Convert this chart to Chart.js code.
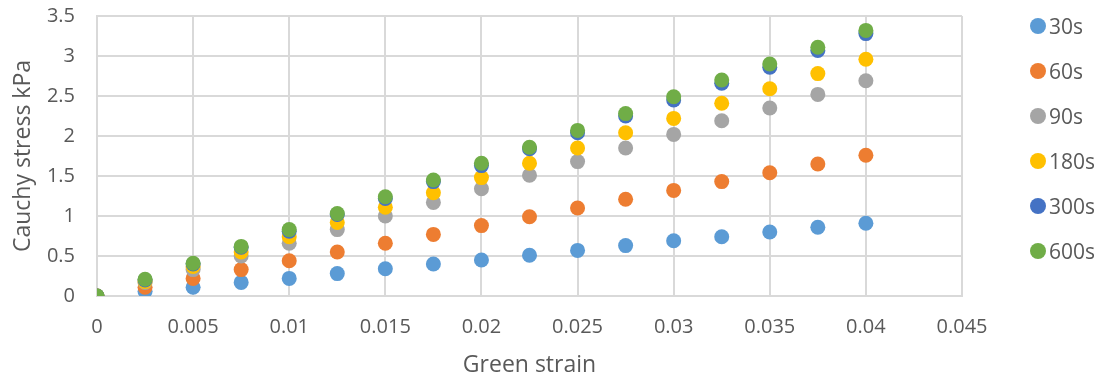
<!DOCTYPE html>
<html lang="en">
<head>
  <meta charset="UTF-8">
  <title>Cauchy stress vs Green strain</title>
  <script src="https://cdn.jsdelivr.net/npm/chart.js"></script>
  <style>
    body {
      margin: 0;
      background: #fff;
      font-family: 'Open Sans', sans-serif;
    }
    .wrap {
      position: relative;
      width: 1104px;
      height: 379px;
    }
    #legend {
      position: absolute;
      left: 1030px;
      top: 12px;
      margin: 0;
      padding: 0;
      list-style: none;
      color: #595959;
      font-size: 21px;
    }
    #legend li {
      height: 45px;
      line-height: 28px;
      display: flex;
      align-items: flex-start;
    }
    #legend span {
      display: inline-block;
      width: 16px;
      height: 16px;
      border-radius: 50%;
      margin: 6px 3px 0 0;
    }
  </style>
</head>
<body>
  <div class="wrap">
    <canvas id="chart" width="1104" height="379"></canvas>
    <ul id="legend"></ul>
  </div>
  <script>
    // strain values (x)
    const strain = [0, 0.0025, 0.005, 0.0075, 0.01, 0.0125, 0.015, 0.0175, 0.02,
                    0.0225, 0.025, 0.0275, 0.03, 0.0325, 0.035, 0.0375, 0.04];

    const seriesNames = ['30s', '60s', '90s', '180s', '300s', '600s'];
    const seriesColors = ['#5B9BD5', '#ED7D31', '#A5A5A5', '#FFC000', '#4472C4', '#70AD47'];

    // stress in kPa
    const s30  = [0, 0.06, 0.11, 0.17, 0.22, 0.28, 0.34, 0.40, 0.45, 0.51, 0.57, 0.63, 0.69, 0.74, 0.80, 0.86, 0.91];
    const s60  = [0, 0.11, 0.22, 0.33, 0.44, 0.55, 0.66, 0.77, 0.88, 0.99, 1.10, 1.21, 1.32, 1.43, 1.54, 1.65, 1.76];
    const s90  = [0, 0.17, 0.33, 0.50, 0.66, 0.83, 1.00, 1.17, 1.34, 1.51, 1.68, 1.85, 2.02, 2.19, 2.35, 2.52, 2.69];
    const s180 = [0, 0.18, 0.37, 0.55, 0.74, 0.92, 1.11, 1.29, 1.48, 1.66, 1.85, 2.04, 2.22, 2.41, 2.59, 2.78, 2.96];
    const s300 = [0, 0.20, 0.40, 0.61, 0.81, 1.02, 1.22, 1.43, 1.63, 1.84, 2.04, 2.25, 2.45, 2.66, 2.86, 3.07, 3.28];
    const s600 = [0, 0.21, 0.41, 0.62, 0.83, 1.03, 1.24, 1.45, 1.66, 1.86, 2.07, 2.28, 2.49, 2.70, 2.90, 3.11, 3.32];
    const allSeries = [s30, s60, s90, s180, s300, s600];

    const xTicks = [0, 0.005, 0.01, 0.015, 0.02, 0.025, 0.03, 0.035, 0.04, 0.045];
    const yTicks = [0, 0.5, 1, 1.5, 2, 2.5, 3, 3.5];

    const textColor = '#595959';
    const gridColor = '#d9d9d9';
    const font = { family: "'Open Sans', sans-serif", size: 20 };
    const titleFont = { family: "'Open Sans', sans-serif", size: 23 };

    const datasets = allSeries.map((vals, i) => ({
      label: seriesNames[i],
      data: vals.map((v, j) => ({ x: strain[j], y: v })),
      backgroundColor: seriesColors[i],
      borderColor: seriesColors[i],
      pointRadius: 7.5,
      pointBorderWidth: 0,
      showLine: false,
      order: allSeries.length - i   // later series on top, like Excel
    }));

    new Chart(document.getElementById('chart'), {
      type: 'scatter',
      data: { datasets },
      options: {
        responsive: false,
        animation: false,
        layout: { padding: { top: 0, right: 142, left: 0, bottom: 0 } },
        plugins: {
          legend: { display: false },
          tooltip: { enabled: false }
        },
        scales: {
          x: {
            type: 'linear',
            min: 0,
            max: 0.045,
            afterBuildTicks: s => { s.ticks = xTicks.map(v => ({ value: v })); },
            afterFit: s => { s.height = 379 - 296; },
            grid: { color: gridColor, lineWidth: 2, drawTicks: false },
            border: { color: gridColor, width: 2 },
            ticks: {
              color: textColor, font, padding: 19,
              callback: v => String(+v.toFixed(4))
            },
            title: {
              display: true, text: 'Green strain', color: textColor,
              font: titleFont, padding: { top: 0, bottom: 0 }
            }
          },
          y: {
            min: 0,
            max: 3.5,
            afterBuildTicks: s => { s.ticks = yTicks.map(v => ({ value: v })); },
            afterFit: s => { s.width = 97; s.paddingTop = 16; s.paddingBottom = 0; },
            grid: { color: gridColor, lineWidth: 2, drawTicks: false },
            border: { color: gridColor, width: 2 },
            ticks: {
              color: textColor, font, padding: 22,
              callback: v => String(+v.toFixed(2))
            },
            title: {
              display: true, text: 'Cauchy stress kPa', color: textColor,
              font: titleFont, padding: { top: 10, bottom: 0 }
            }
          }
        }
      }
    });

    // legend
    const legend = document.getElementById('legend');
    seriesNames.forEach((name, i) => {
      const li = document.createElement('li');
      li.innerHTML = `<span style="background:${seriesColors[i]}"></span>${name}`;
      legend.appendChild(li);
    });
  </script>
</body>
</html>
